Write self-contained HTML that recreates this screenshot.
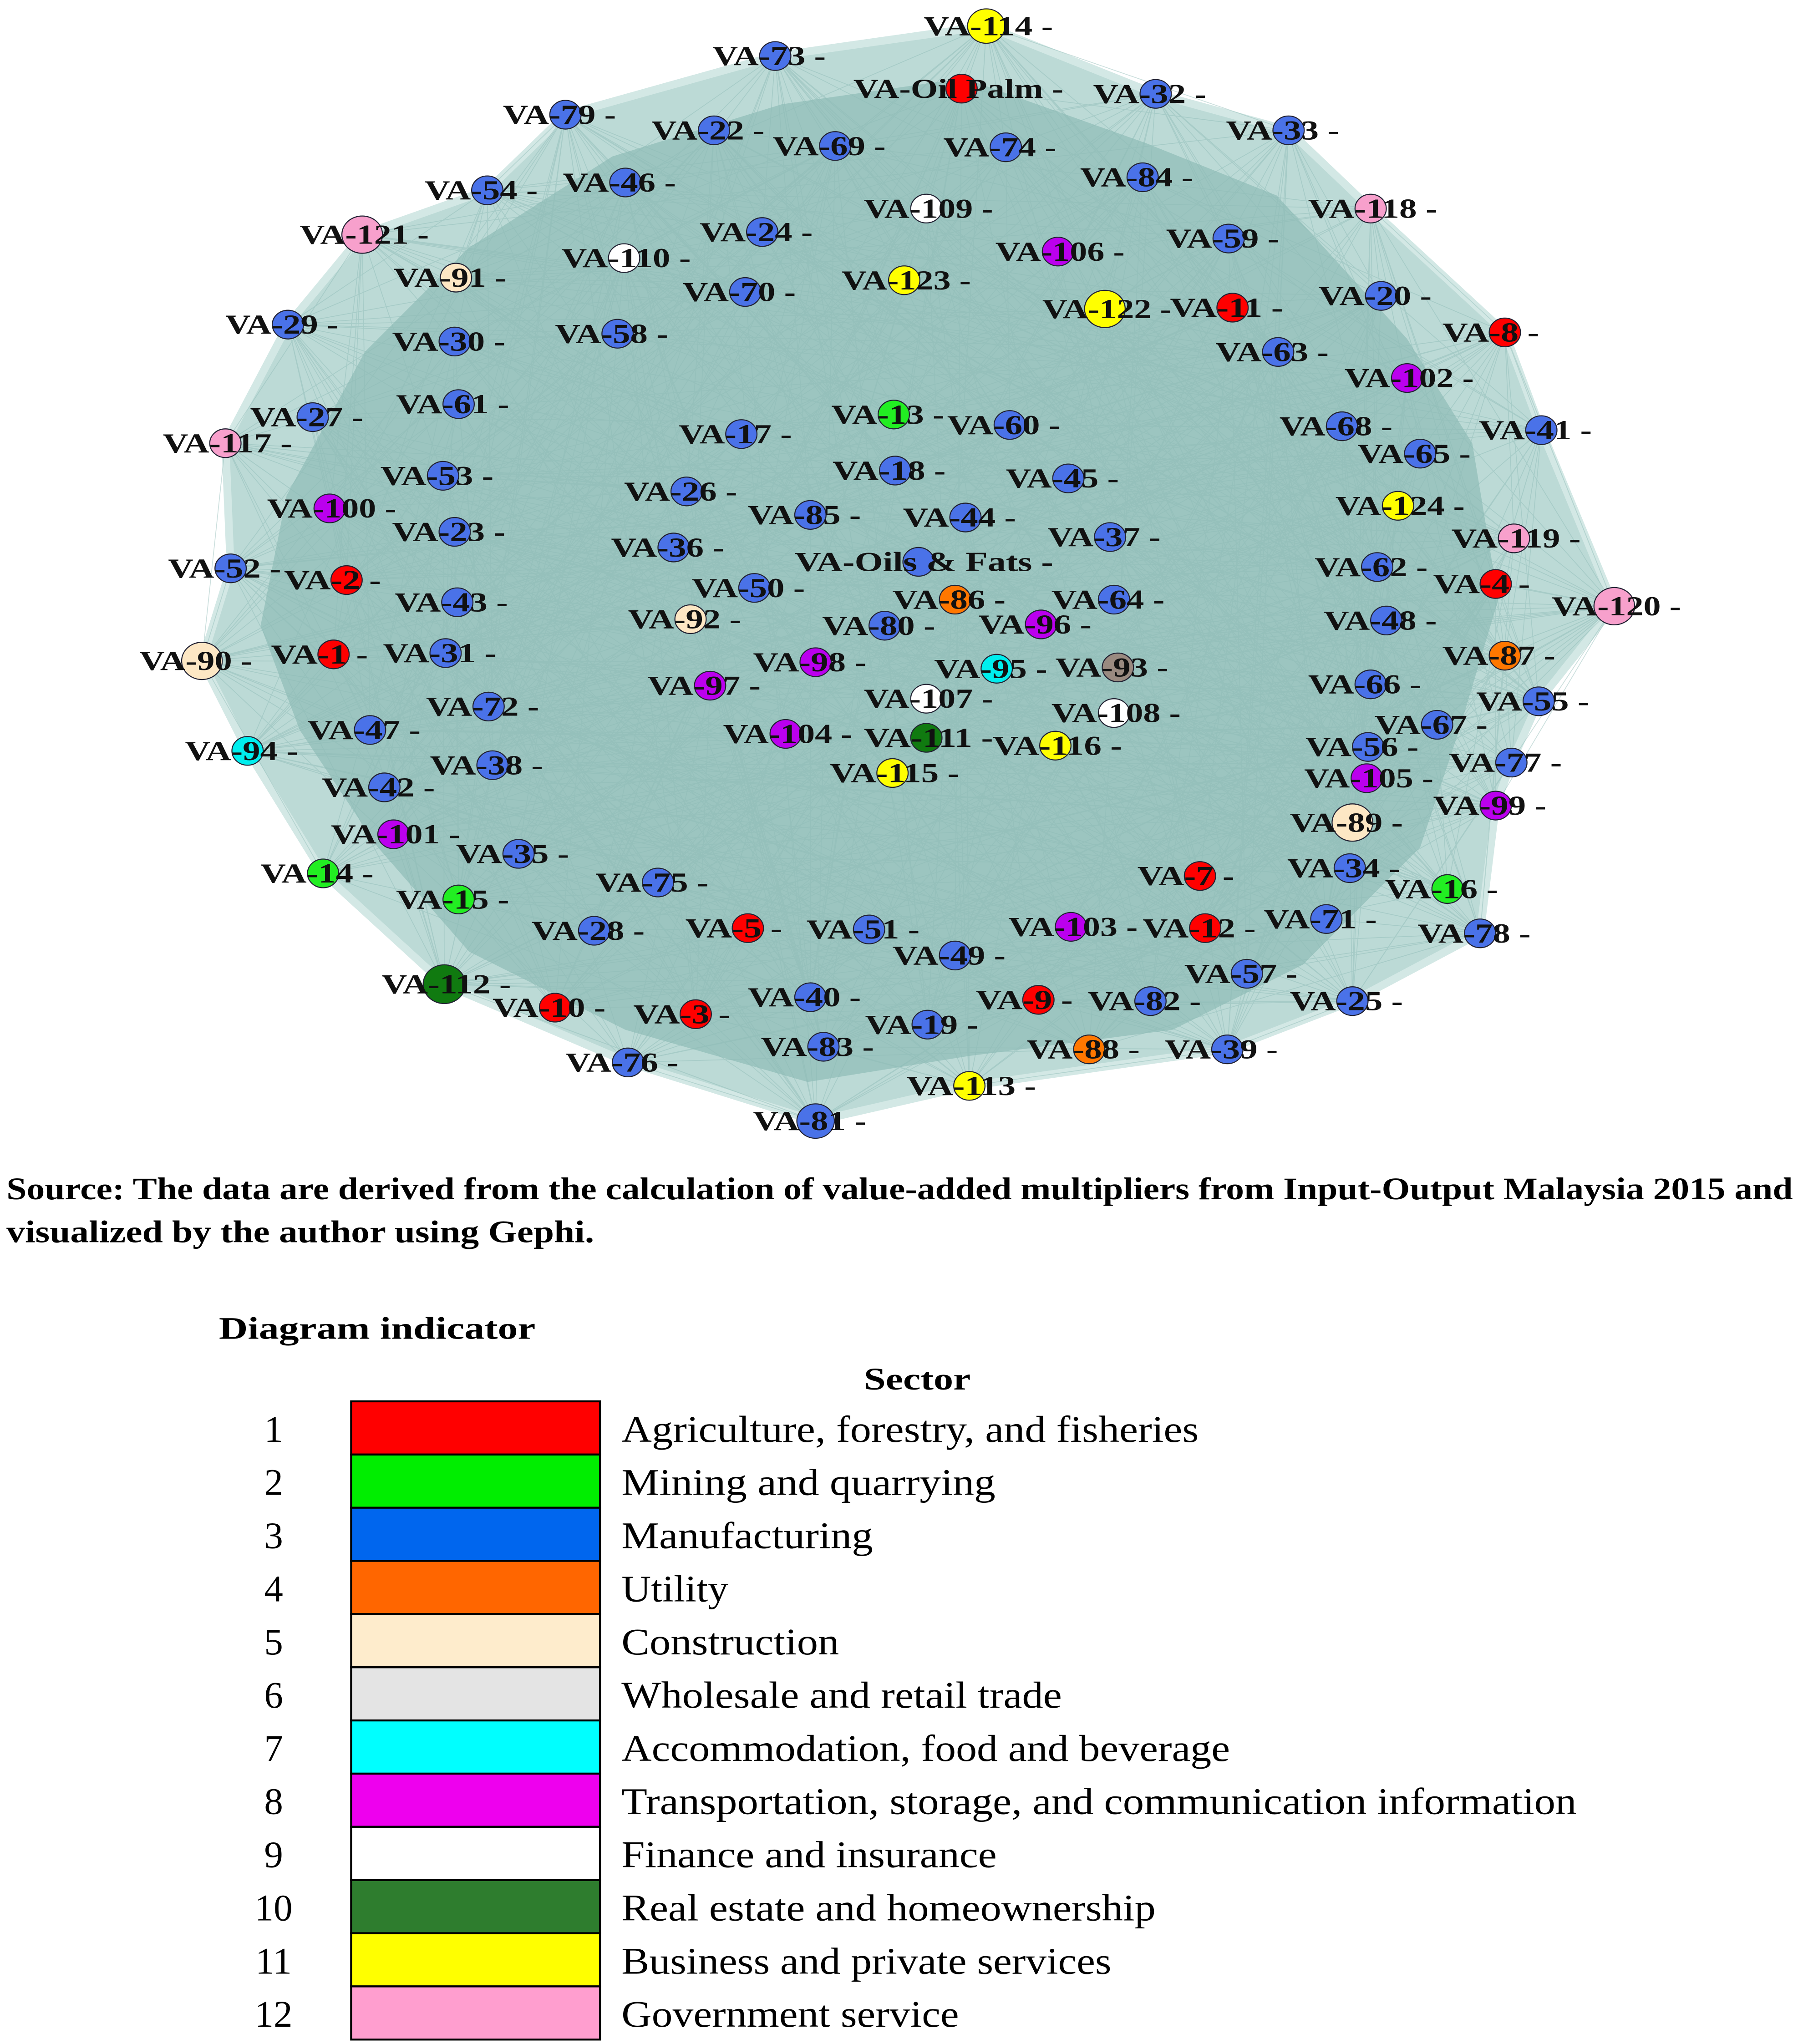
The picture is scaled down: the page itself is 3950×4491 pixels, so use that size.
<!DOCTYPE html>
<html><head><meta charset="utf-8">
<style>
html,body{margin:0;padding:0;background:#fff;}
svg{display:block;}
.l{font-family:"Liberation Serif",serif;font-weight:bold;font-size:21px;fill:#111;}
.s{font-family:"Liberation Serif",serif;font-weight:bold;font-size:24px;fill:#000;}
.t{font-family:"Liberation Serif",serif;font-size:29px;fill:#000;}
</style></head>
<body>
<svg id="g" width="3950" height="4491" viewBox="0 0 1380 1568" preserveAspectRatio="none" xmlns="http://www.w3.org/2000/svg">
<rect width="1380" height="1568" fill="#fff"/>
<polygon points="757,20 887,72 989,100 1052,160 1155,255 1183,330 1239,465 1181,538 1160,585 1148,618 1136,716 1038,768 942,805 744,833 626,860 482,815 341,755 248,670 190,576 155,507 177,436 173,340 221,249 278,180 374,146 434,88 595,43" fill="#bcdad6" stroke="#d3e8e5" stroke-width="6"/>
<polygon points="740,60 880,110 980,150 1080,260 1130,340 1150,460 1120,560 1090,650 1000,740 900,790 744,810 620,830 480,790 360,730 290,650 230,560 200,480 220,380 280,270 360,190 470,120 600,80" fill="#9cc5c0"/>
<g id="edges" stroke="#8dbab5" stroke-width="0.6" opacity="0.45"></g>
<g id="nodes"></g>
<text class="s" x="5" y="920" textLength="1371" lengthAdjust="spacingAndGlyphs">Source: The data are derived from the calculation of value-added multipliers from Input-Output Malaysia 2015 and</text>
<text class="s" x="5" y="953" textLength="451" lengthAdjust="spacingAndGlyphs">visualized by the author using Gephi.</text>
<text class="s" x="168" y="1027" font-size="28" textLength="243" lengthAdjust="spacingAndGlyphs">Diagram indicator</text>
<text class="s" x="663" y="1066" font-size="28" textLength="82" lengthAdjust="spacingAndGlyphs">Sector</text>
<g id="legend"></g>
</svg>
<script>
var C={r:"#ff0000",g:"#22ee22",b:"#4a72e8",o:"#ff7700",c:"#fde7c4",w:"#ffffff",y:"#ffff00",m:"#bb00ee",p:"#f7a0cc",cy:"#00eeee",dg:"#107a10",gr:"#9a8a80"};
var N=[[757,20,"114","y",1.2],[595,43,"73","b"],[738,68,"Oil Palm","r",1,655],[887,72,"32","b"],[434,88,"79","b"],[548,100,"22","b"],[641,112,"69","b"],[772,113,"74","b"],[989,100,"33","b"],[374,146,"54","b"],[480,140,"46","b"],[877,136,"84","b"],[711,160,"109","w"],[1052,160,"118","p"],[278,180,"121","p",1.3],[585,178,"24","b"],[812,193,"106","m"],[943,183,"59","b"],[350,213,"91","c"],[479,198,"110","w"],[694,215,"123","y"],[848,237,"122","y",1.3],[946,236,"11","r"],[1060,227,"20","b"],[1155,255,"8","r"],[572,224,"70","b"],[221,249,"29","b"],[349,262,"30","b"],[474,256,"58","b"],[981,270,"63","b"],[1080,290,"102","m"],[352,310,"61","b"],[240,320,"27","b"],[686,318,"13","g"],[775,326,"60","b"],[1030,327,"68","b"],[1183,330,"41","b"],[173,340,"117","p"],[569,333,"17","b"],[1090,348,"65","b"],[340,365,"53","b"],[687,361,"18","b"],[820,367,"45","b"],[527,377,"26","b"],[253,390,"100","m"],[1073,388,"124","y"],[622,395,"85","b"],[741,397,"44","b"],[852,412,"37","b"],[1162,413,"119","p"],[349,408,"23","b"],[517,420,"36","b"],[177,436,"52","b"],[266,445,"2","r"],[705,431,"Oils & Fats","b",1,610],[1057,435,"62","b"],[579,451,"50","b"],[733,460,"86","o"],[855,460,"64","b"],[1148,448,"4","r"],[351,462,"43","b"],[1239,465,"120","p",1.3],[530,475,"92","c"],[679,480,"80","b"],[799,479,"96","m"],[1064,476,"48","b"],[155,507,"90","c",1.3],[256,502,"1","r"],[342,501,"31","b"],[1155,503,"87","o"],[626,508,"98","m"],[765,513,"95","cy"],[858,512,"93","gr"],[545,526,"97","m"],[1052,525,"66","b"],[711,536,"107","w"],[375,542,"72","b"],[855,547,"108","w"],[1181,538,"55","b"],[1103,556,"67","b"],[284,560,"47","b"],[603,563,"104","m"],[711,566,"111","dg"],[810,572,"116","y"],[190,576,"94","cy"],[1050,573,"56","b"],[1160,585,"77","b"],[378,587,"38","b"],[685,593,"115","y"],[1049,597,"105","m"],[295,604,"42","b"],[1148,618,"99","m"],[302,640,"101","m"],[1038,631,"89","c",1.3],[398,655,"35","b"],[1036,666,"34","b"],[248,670,"14","g"],[921,672,"7","r"],[1111,682,"16","g"],[505,677,"75","b"],[352,690,"15","g"],[1018,705,"71","b"],[1136,716,"78","b"],[456,714,"28","b"],[574,712,"5","r"],[667,713,"51","b"],[822,711,"103","m"],[925,712,"12","r"],[733,733,"49","b"],[341,755,"112","dg",1.35],[957,747,"57","b"],[426,773,"10","r"],[534,778,"3","r"],[622,765,"40","b"],[712,786,"19","b"],[797,767,"9","r"],[883,768,"82","b"],[1038,768,"25","b"],[632,803,"83","b"],[836,805,"88","o"],[942,805,"39","b"],[482,815,"76","b"],[744,833,"113","y"],[626,860,"81","b",1.2]];
var ns="http://www.w3.org/2000/svg";
function el(t,a,p,txt){var e=document.createElementNS(ns,t);for(var k in a)e.setAttribute(k,a[k]);if(txt!=null)e.textContent=txt;p.appendChild(e);return e;}
var E=document.getElementById("edges"),G=document.getElementById("nodes"),L=document.getElementById("legend");
var seed=7;function rnd(){seed=(seed*16807)%2147483647;return seed/2147483647;}
var cx=700,cy=450;
for(var i=0;i<N.length;i++){var a=N[i];var d=Math.hypot(a[0]-cx,a[1]-cy);if(d<300)continue;
 for(var j=0;j<14;j++){var b=N[Math.floor(rnd()*N.length)];el("line",{x1:a[0],y1:a[1],x2:b[0],y2:b[1]},E);}}
for(var i=0;i<N.length;i++){var a=N[i];var s=a[4]||1;
 el("ellipse",{cx:a[0],cy:a[1],rx:12*s,ry:11*s,fill:C[a[3]],stroke:"#223","stroke-width":0.8},G);}
for(var i=0;i<N.length;i++){var a=N[i];var x=a[5]!=null?a[5]:a[0]-48;var str="VA-"+a[2]+" -";
 el("text",{x:x,y:a[1]+7,"class":"l",textLength:(str.length*12.4).toFixed(1),lengthAdjust:"spacingAndGlyphs"},G,str);}
var LG=[["#ff0000","Agriculture, forestry, and fisheries",443],["#00ee00","Mining and quarrying",287],["#0066ee","Manufacturing",193],["#ff6600","Utility",82],["#feeccc","Construction",167],["#e4e4e4","Wholesale and retail trade",338],["#00ffff","Accommodation, food and beverage",467],["#ee00ee","Transportation, storage, and communication information",733],["#ffffff","Finance and insurance",288],["#2e7d2e","Real estate and homeownership",410],["#ffff00","Business and private services",376],["#ff9ecf","Government service",259]];
for(var i=0;i<12;i++){var y=1075+i*40.8;
 el("rect",{x:269.5,y:y,width:191,height:40.8,fill:LG[i][0],stroke:"#000","stroke-width":1.5},L);
 el("text",{x:210,y:y+31,"class":"t","text-anchor":"middle"},L,String(i+1));
 el("text",{x:477,y:y+31,"class":"t",textLength:LG[i][2],lengthAdjust:"spacingAndGlyphs"},L,LG[i][1]);}
</script>
</body></html>
